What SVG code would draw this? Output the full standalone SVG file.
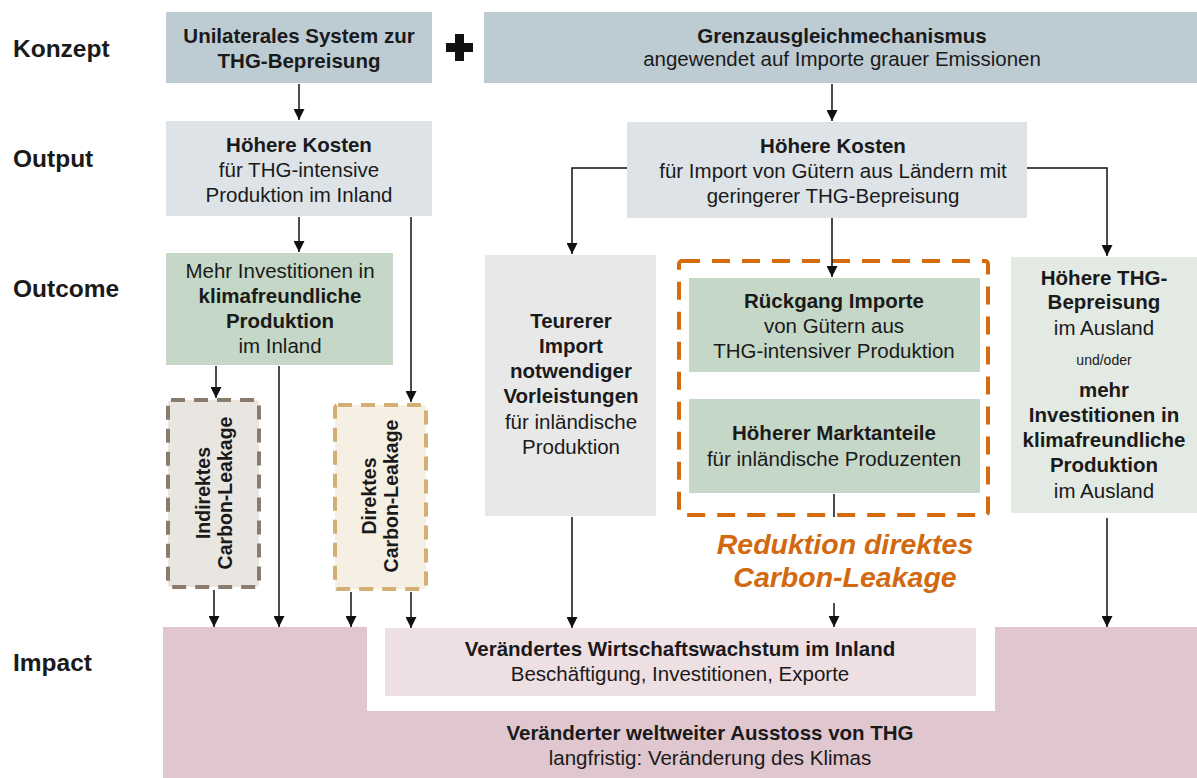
<svg xmlns="http://www.w3.org/2000/svg" width="1197" height="778" viewBox="0 0 1197 778">
<defs>
<marker id="ah" viewBox="0 0 10 10" refX="10" refY="5" markerWidth="11" markerHeight="11" markerUnits="userSpaceOnUse" orient="auto">
<path d="M0,0 L10,5 L0,10 z" fill="#111"/>
</marker>
<style>
text{font-family:"Liberation Sans",Arial,sans-serif;fill:#1a1a1a;text-anchor:middle;font-size:20.5px}
.b{font-weight:bold}
.lab{font-weight:bold;font-size:24.5px;text-anchor:start}
.lk{font-weight:bold;font-size:19.5px}
.c{stroke:#111;stroke-width:1.5;fill:none}
.ca{stroke:#111;stroke-width:1.5;fill:none;marker-end:url(#ah)}
.red{fill:#d2690f;font-weight:bold;font-style:italic;font-size:28.5px}
</style>
</defs>
<rect width="1197" height="778" fill="#fff"/>

<g id="labels">
<text class="lab" x="13" y="57">Konzept</text>
<text class="lab" x="13" y="167">Output</text>
<text class="lab" x="13" y="297">Outcome</text>
<text class="lab" x="13" y="671">Impact</text>
</g>

<g id="impact">
<path d="M163,627 H367 V711 H995 V627 H1197 V778 H163 Z" fill="#e0c6cf"/>
<text class="b" x="710" y="740">Veränderter weltweiter Ausstoss von THG</text>
<text x="710" y="765">langfristig: Veränderung des Klimas</text>
</g>
<g id="wachstum">
<rect x="385" y="628" width="591" height="68" fill="#eedfe3"/>
<text class="b" x="680" y="656">Verändertes Wirtschaftswachstum im Inland</text>
<text x="680" y="681">Beschäftigung, Investitionen, Exporte</text>
</g>

<g id="konzept-unilateral">
<rect x="166" y="12" width="266" height="71" fill="#bdcbd3"/>
<text class="b" x="299" y="43">Unilaterales System zur</text>
<text class="b" x="299" y="68">THG-Bepreisung</text>
</g>
<g id="plus">
<rect x="446" y="43" width="27" height="9" fill="#111"/>
<rect x="455" y="34" width="9" height="27" fill="#111"/>
</g>
<g id="konzept-grenz">
<rect x="484" y="12" width="713" height="71" fill="#bdcbd3"/>
<text class="b" x="842" y="43">Grenzausgleichmechanismus</text>
<text x="842" y="66">angewendet auf Importe grauer Emissionen</text>
</g>

<g id="output-left">
<rect x="166" y="121" width="266" height="95" fill="#dde3e7"/>
<text class="b" x="299" y="152">Höhere Kosten</text>
<text x="299" y="177">für THG-intensive</text>
<text x="299" y="202">Produktion im Inland</text>
</g>
<g id="output-right">
<rect x="627" y="122" width="400" height="96" fill="#dde3e7"/>
<text class="b" x="833" y="153">Höhere Kosten</text>
<text x="833" y="178">für Import von Gütern aus Ländern mit</text>
<text x="833" y="203">geringerer THG-Bepreisung</text>
</g>

<g id="outcome-inland">
<rect x="166" y="253" width="227" height="112" fill="#c5d7c7"/>
<text x="280" y="278">Mehr Investitionen in</text>
<text class="b" x="280" y="303">klimafreundliche</text>
<text class="b" x="280" y="328">Produktion</text>
<text x="280" y="353">im Inland</text>
</g>

<g id="indirektes">
<rect x="168" y="400" width="91" height="187" rx="3" fill="#e9e6e2" stroke="#8a7b6c" stroke-width="4" stroke-dasharray="14 9"/>
<text class="lk" transform="translate(210,493) rotate(-90)">Indirektes</text>
<text class="lk" transform="translate(232,493) rotate(-90)">Carbon-Leakage</text>
</g>
<g id="direktes">
<rect x="335" y="405" width="91" height="184" rx="3" fill="#f5efe4" stroke="#d3ae75" stroke-width="4" stroke-dasharray="14 9"/>
<text class="lk" transform="translate(376,496) rotate(-90)">Direktes</text>
<text class="lk" transform="translate(398,496) rotate(-90)">Carbon-Leakage</text>
</g>

<g id="teurerer">
<rect x="485" y="255" width="171" height="261" fill="#e8e8e8"/>
<text class="b" x="571" y="328">Teurerer</text>
<text class="b" x="571" y="353">Import</text>
<text class="b" x="571" y="378">notwendiger</text>
<text class="b" x="571" y="403">Vorleistungen</text>
<text x="571" y="429">für inländische</text>
<text x="571" y="454">Produktion</text>
</g>

<g id="reduktion">
<rect x="679" y="261" width="309" height="254" rx="3" fill="none" stroke="#d46b0c" stroke-width="4" stroke-dasharray="18 12"/>
<text class="red" x="845" y="554">Reduktion direktes</text>
<text class="red" x="845" y="587">Carbon-Leakage</text>
</g>
<g id="rueckgang">
<rect x="689" y="278" width="291" height="94" fill="#c5d7c7"/>
<text class="b" x="834" y="308">Rückgang Importe</text>
<text x="834" y="333">von Gütern aus</text>
<text x="834" y="358">THG-intensiver Produktion</text>
</g>
<g id="marktanteile">
<rect x="689" y="399" width="291" height="94" fill="#c5d7c7"/>
<text class="b" x="834" y="440">Höherer Marktanteile</text>
<text x="834" y="466">für inländische Produzenten</text>
</g>

<g id="ausland">
<rect x="1011" y="257" width="186" height="256" fill="#e3e9e3"/>
<text class="b" x="1104" y="285">Höhere THG-</text>
<text class="b" x="1104" y="309">Bepreisung</text>
<text x="1104" y="335">im Ausland</text>
<text x="1104" y="365" style="font-size:14px">und/oder</text>
<text class="b" x="1104" y="397">mehr</text>
<text class="b" x="1104" y="422">Investitionen in</text>
<text class="b" x="1104" y="447">klimafreundliche</text>
<text class="b" x="1104" y="472">Produktion</text>
<text x="1104" y="498">im Ausland</text>
</g>

<g id="connectors">
<path class="ca" d="M299,84 V120"/>
<path class="ca" d="M832,84 V121"/>
<path class="ca" d="M299,217 V252"/>
<path class="ca" d="M411,217 V402"/>
<path class="ca" d="M627,168 H572 V254"/>
<path class="ca" d="M1027,168 H1107 V256"/>
<path class="ca" d="M832,218 V277"/>
<path class="ca" d="M216,366 V398"/>
<path class="ca" d="M279,366 V627"/>
<path class="ca" d="M214,590 V627"/>
<path class="ca" d="M351,592 V627"/>
<path class="ca" d="M411,592 V628"/>
<path class="ca" d="M572,517 V628"/>
<path class="c" d="M834,494 V517"/>
<path class="ca" d="M834,603 V627"/>
<path class="ca" d="M1107,518 V627"/>
</g>
</svg>
